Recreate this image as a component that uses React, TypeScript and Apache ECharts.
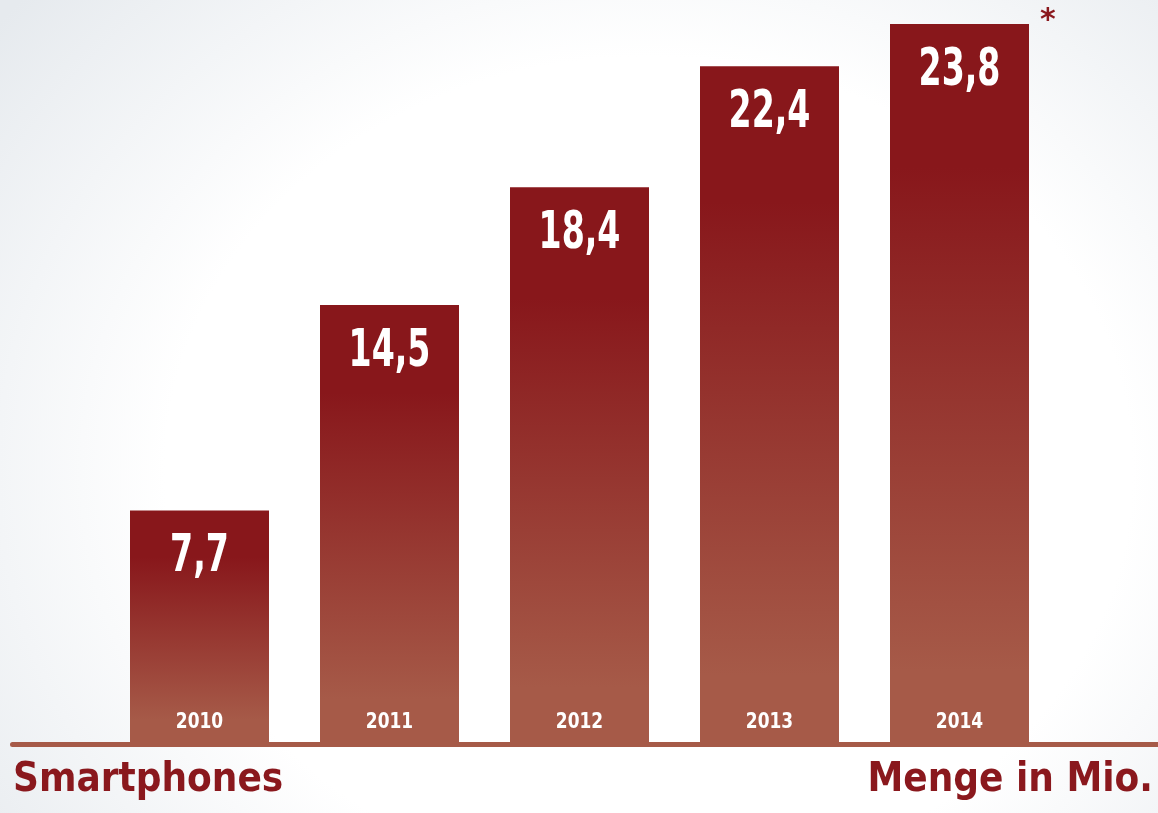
import React, { useEffect, useRef } from "react";
import * as echarts from "echarts";

const years = ["2010", "2011", "2012", "2013", "2014"];
const values = [7.7, 14.5, 18.4, 22.4, 23.8];
const leftTitle = "Smartphones";
const rightTitle = "Menge in Mio.";
const footnoteMark = "*";

const DARK = "#88171b";
const LIGHT = "#a65a48";
const TEXT_RED = "#8a181d";
const FONT = "'DejaVu Sans Condensed', 'DejaVu Sans', sans-serif";

export default function App() {
  const ref = useRef<HTMLDivElement>(null);
  useEffect(() => {
    if (!ref.current) return;
    const chart = echarts.init(ref.current, null, { renderer: "svg" });
    const barGradient = new echarts.graphic.LinearGradient(0, 0, 0, 1, [
      { offset: 0, color: DARK },
      { offset: 0.2, color: DARK },
      { offset: 0.9, color: LIGHT },
      { offset: 1, color: LIGHT },
    ]);
    const labelData = values.map((v, i) => [i, v]);
    chart.setOption({
      animation: false,
      grid: { left: 104.5, right: 103.5, top: 18, height: 725 },
      xAxis: {
        type: "category",
        data: years,
        axisLine: { show: false },
        axisTick: { show: false },
        axisLabel: { show: false },
      },
      yAxis: { type: "value", min: 0, max: 24, show: false, splitLine: { show: false } },
      series: [
        {
          type: "bar",
          data: values,
          barWidth: 139,
          itemStyle: { color: barGradient },
        },
        {
          type: "custom",
          data: labelData,
          z: 10,
          silent: true,
          renderItem: (params: any, api: any) => {
            const idx = api.value(0);
            const v = api.value(1);
            const top = api.coord([idx, v]);
            const base = api.coord([idx, 0]);
            return {
              type: "group",
              children: [
                {
                  type: "text",
                  x: top[0],
                  y: top[1] + 17,
                  scaleX: 0.71,
                  style: {
                    text: String(v).replace(".", ","),
                    x: 0,
                    y: 0,
                    align: "center",
                    verticalAlign: "top",
                    fill: "#ffffff",
                    fontSize: 52,
                    fontWeight: "bold",
                    fontFamily: FONT,
                  },
                },
                {
                  type: "text",
                  x: base[0],
                  y: base[1] - 12,
                  scaleX: 0.86,
                  style: {
                    text: years[idx],
                    x: 0,
                    y: 0,
                    align: "center",
                    verticalAlign: "bottom",
                    fill: "#ffffff",
                    fontSize: 22,
                    fontWeight: "bold",
                    fontFamily: FONT,
                  },
                },
              ],
            };
          },
        },
      ],
      graphic: [
        {
          type: "rect",
          z: 100,
          shape: { x: 10, y: 742, width: 1148, height: 5, r: [2.5, 0, 0, 2.5] },
          style: { fill: LIGHT },
        },
        {
          type: "text",
          z: 100,
          left: 13,
          top: 757,
          style: {
            text: leftTitle,
            fill: TEXT_RED,
            fontSize: 40,
            fontWeight: "bold",
            fontFamily: FONT,
          },
        },
        {
          type: "text",
          z: 100,
          right: 5,
          top: 757,
          style: {
            text: rightTitle,
            fill: TEXT_RED,
            fontSize: 40,
            fontWeight: "bold",
            fontFamily: FONT,
          },
        },
        {
          type: "text",
          z: 100,
          left: 1040,
          top: 3,
          style: {
            text: footnoteMark,
            fill: TEXT_RED,
            fontSize: 30,
            fontWeight: "bold",
            fontFamily: "'DejaVu Sans', sans-serif",
          },
        },
      ],
    });
    return () => chart.dispose();
  }, []);
  return (
    <div
      ref={ref}
      style={{
        position: "fixed",
        left: 0,
        top: 0,
        width: 1158,
        height: 813,
        background:
          "radial-gradient(ellipse 72% 88% at 56% 58%, #ffffff 58%, #f3f5f7 78%, #e6eaee 100%)",
      }}
    />
  );
}
